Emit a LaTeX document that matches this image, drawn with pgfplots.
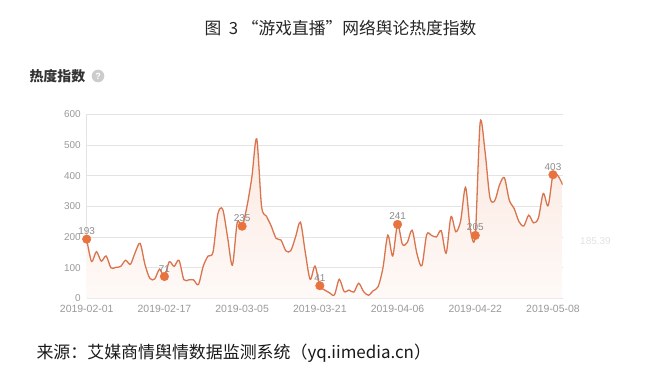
\documentclass[border=0pt]{standalone}
\usepackage{fontspec}
\setmainfont{Liberation Sans}
\newfontfamily\cjk{Noto Sans CJK SC}
\usepackage{pgfplots}
\usepackage{pgfplotstable}
\pgfplotsset{compat=1.18}
\definecolor{lineC}{HTML}{D9744E}
\definecolor{markC}{HTML}{E8733F}
\definecolor{tickC}{HTML}{9A9A9A}
\definecolor{gridC}{HTML}{E4E4E4}
\definecolor{labC}{HTML}{8C8C8C}

\pgfplotstableread{
day val
0 193
1 120
2 152
3 121
4 138
5 99
6 101
7 104
8 124
9 111
10 150
11 179
12 110
13 65
14 63
15 95
16 71
17 119
18 104
19 124
20 61
21 60
22 60
23 45
24 105
25 138
26 150
27 275
28 290
29 200
30 108
31 248
32 235
33 300
34 395
35 520
36 300
37 268
38 235
39 195
40 190
41 155
42 155
43 200
44 248
45 150
46 62
47 105
48 41
49 27
50 18
51 11
52 62
53 22
54 27
55 20
56 49
57 22
58 10
59 25
60 38
61 100
62 206
63 138
64 241
65 176
66 182
67 222
68 145
69 106
70 208
71 205
72 200
73 220
74 147
75 266
76 217
77 253
78 362
79 222
80 205
81 572
82 480
83 330
84 318
85 370
86 393
87 320
88 293
89 250
90 236
91 271
92 246
93 262
94 342
95 302
96 403
97 400
98 370
}\heatdata

\pgfplotstableread{
day val
0 193
16 71
32 235
48 41
64 241
80 205
96 403
}\markdata

\begin{document}
\begin{tikzpicture}
\path[use as bounding box, fill=white] (0bp,0bp) rectangle (648bp,381bp);
\node[font=\cjk\fontsize{16.8}{18}\selectfont, text=black!85] at (340.5bp,353bp) {图\ \ 3\ “游戏直播”网络舆论热度指数};
\node[anchor=west, font=\cjk\bfseries\fontsize{14}{16}\selectfont, text=black!80] at (26bp,305bp) {热度指数};
\fill[gray!40] (98bp,305bp) circle (6.3bp);
\node[text=white, font=\bfseries\fontsize{9}{9}\selectfont] at (98bp,305bp) {?};
\node[anchor=west, font=\cjk\fontsize{17}{18}\selectfont, text=black!90] at (33bp,28bp) {来源：艾媒商情舆情数据监测系统（yq.iimedia.cn）};

\begin{axis}[
  at={(86.7bp,82.7bp)}, anchor=south west,
  scale only axis, width=476bp, height=184bp,
  xmin=0, xmax=98, ymin=0, ymax=600,
  ytick={0,100,...,600},
  xtick={0,16,32,48,64,80,96},
  xticklabels={2019-02-01,2019-02-17,2019-03-05,2019-03-21,2019-04-06,2019-04-22,2019-05-08},
  ymajorgrids, grid style={draw=gridC, line width=0.6pt},
  axis x line*=bottom, axis y line*=left,
  axis line style={draw=gridC, line width=0.6pt},
  major tick length=0pt,
  tick label style={text=tickC},
  xticklabel style={font=\fontsize{10.5}{12}\selectfont, yshift=-3bp},
  yticklabel style={font=\fontsize{10}{12}\selectfont, xshift=-2.5bp},
  /pgf/number format/assume math mode=true,
  clip mode=individual,
]
\addplot[draw=none, smooth, tension=0.5, top color=markC!18, bottom color=markC!4, shading=axis] table[x=day,y=val] {\heatdata} \closedcycle;
\addplot[lineC, line width=1.3pt, smooth, tension=0.5, mark=none] table[x=day,y=val] {\heatdata};
\addplot[only marks, mark=*, mark size=4.3bp, mark options={fill=markC, draw=markC},
  nodes near coords, point meta=y,
  every node near coord/.append style={text=labC, font=\fontsize{10}{12}\selectfont, yshift=1bp}]
  table[x=day,y=val] {\markdata};
\node[anchor=west, text=gray!22, font=\fontsize{10}{12}\selectfont] at (axis cs:98,185.39) [xshift=14bp] {185.39};
\end{axis}
\end{tikzpicture}
\end{document}
